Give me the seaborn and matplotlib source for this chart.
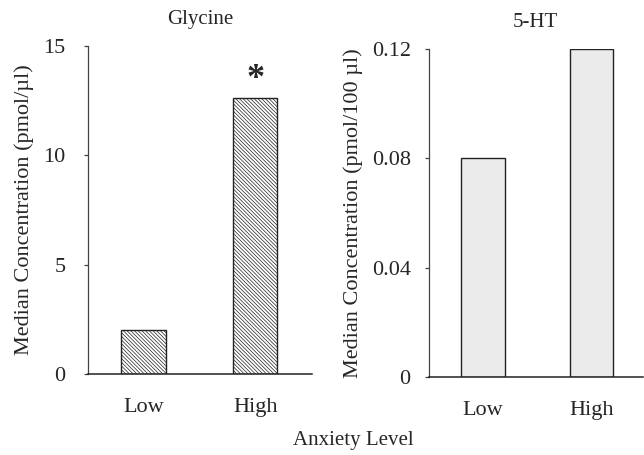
import matplotlib
matplotlib.use("Agg")
import matplotlib.pyplot as plt
import seaborn as sns
import pandas as pd

categories = ["Low", "High"]
glycine_values = [2.03, 12.63]
serotonin_values = [0.080, 0.120]
glycine_ticks = [0, 5, 10, 15]
serotonin_ticks = [0, 0.04, 0.08, 0.12]
serotonin_tick_labels = ["0", "0.04", "0.08", "0.12"]

sns.set_style("ticks")
plt.rcParams["font.family"] = ["Liberation Serif", "DejaVu Serif"]
plt.rcParams["hatch.linewidth"] = 0.5

fig = plt.figure(figsize=(6.44, 4.55), dpi=100)
ax1 = fig.add_axes([0.1366, 0.178, 0.348, 0.721])
ax2 = fig.add_axes([0.6657, 0.1714, 0.332, 0.721])

df1 = pd.DataFrame({"level": categories, "value": glycine_values})
df2 = pd.DataFrame({"level": categories, "value": serotonin_values})

plt.rcParams["hatch.color"] = "#a0a0a0"
sns.barplot(data=df1, x="level", y="value", ax=ax1, width=0.4,
            color="white", edgecolor="#222222", linewidth=1.0, saturation=1)
plt.rcParams["hatch.color"] = "#c8c8c8"
sns.barplot(data=df2, x="level", y="value", ax=ax2, width=0.4,
            color="#ececec", edgecolor="#222222", linewidth=1.0, saturation=1)

for p in ax1.patches:
    p.set_hatch("\\" * 9)
for p in ax2.patches:
    p.set_facecolor("#ebebeb")

ax1.set_xlim(-0.498, 1.51)
ax1.set_ylim(0, 15)
ax1.set_yticks(glycine_ticks)
ax1.set_yticklabels([str(t) for t in glycine_ticks])
ax2.set_xlim(-0.50, 1.47)
ax2.set_ylim(0, 0.12)
ax2.set_yticks(serotonin_ticks)
ax2.set_yticklabels(serotonin_tick_labels)

for ax in (ax1, ax2):
    sns.despine(ax=ax)
    ax.spines["left"].set_color("#444444")
    ax.spines["bottom"].set_color("#222222")
    ax.spines["left"].set_linewidth(0.9)
    ax.spines["bottom"].set_linewidth(1.1)
    ax.tick_params(axis="y", length=3, width=0.9, labelsize=16,
                   color="#444444")
    ax.tick_params(axis="x", length=0, pad=17, labelsize=16)
    ax.set_xlabel("")
ax1.tick_params(axis="y", pad=13)
ax2.tick_params(axis="y", pad=10)

ax1.set_ylabel("Median Concentration (pmol/µl)", fontsize=16, labelpad=7)
ax2.set_ylabel("Median Concentration (pmol/100 µl)", fontsize=16, labelpad=6)
ax1.set_title("Glycine", fontsize=15, pad=16)
ax2.set_title("5-HT", fontsize=15, pad=16)

ax1.text(1, glycine_values[1] + 0.1, "*", ha="center", va="bottom",
         fontsize=26, fontweight="bold")

fig.text(353 / 644, 1 - 441 / 455, "Anxiety Level", ha="center",
         va="center", fontsize=15)

fig.savefig("out.png", dpi=100)
